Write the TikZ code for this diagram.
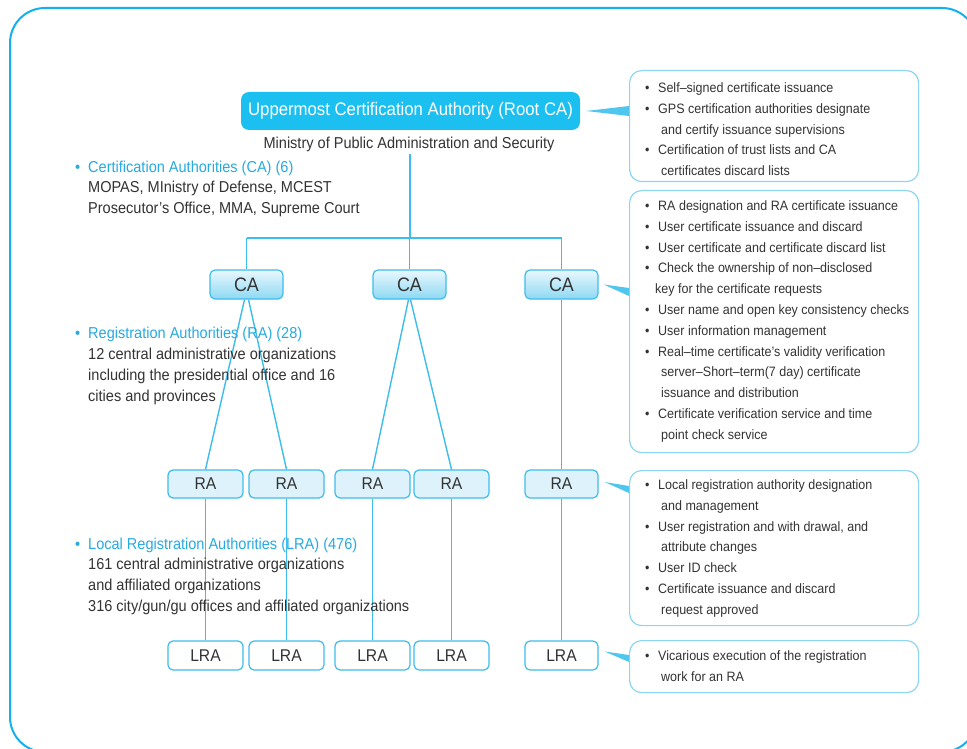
\documentclass[tikz,border=0pt]{standalone}
\usepackage{fontspec}
\setmainfont{Liberation Sans}[FakeStretch=0.92]
\usetikzlibrary{calc}

\definecolor{framecol}{HTML}{12B0EC}
\definecolor{linecol}{HTML}{3DBDEB}
\definecolor{rootcol}{HTML}{1CC0F0}
\definecolor{callcol}{HTML}{8DD6F1}
\definecolor{wedgecol}{HTML}{4FC6EE}
\definecolor{txtcol}{HTML}{333333}
\definecolor{bluetxt}{HTML}{27AAE1}
\definecolor{ratop}{HTML}{DDF2FB}
\definecolor{catop}{HTML}{E9F8FE}
\definecolor{cabot}{HTML}{8ED8F3}

\newcommand{\bul}{\makebox[13pt][l]{\textbullet}}
\newcommand{\cont}{\hspace*{16pt}}

\tikzset{
  frame/.style={draw=framecol, line width=2pt, rounded corners=35pt},
  link/.style={draw=linecol, line width=1.4pt},
  rootbox/.style={fill=rootcol, rounded corners=8pt, minimum width=339pt, minimum height=38pt,
    text=white, font=\fontsize{18.2}{20}\selectfont, inner sep=0pt},
  cabox/.style={draw=linecol, line width=1.2pt, rounded corners=5pt, top color=catop, bottom color=cabot,
    minimum width=73pt, minimum height=29pt, inner sep=0pt, text=txtcol, font=\fontsize{19.5}{20}\selectfont},
  rabox/.style={draw=linecol, line width=1.2pt, rounded corners=5pt, fill=ratop,
    minimum width=75pt, minimum height=28pt, inner sep=0pt, text=txtcol, font=\fontsize{17}{20}\selectfont},
  lrabox/.style={draw=linecol, line width=1.2pt, rounded corners=5pt, fill=white,
    minimum width=75pt, minimum height=29pt, inner sep=0pt, text=txtcol, font=\fontsize{17}{20}\selectfont},
  callout/.style={draw=callcol, line width=1.2pt, rounded corners=12pt, minimum width=289pt, anchor=north west, inner sep=0pt},
  listtext/.style={anchor=north west, align=left, inner sep=0pt, text=txtcol, font=\fontsize{13.6}{20.8}\selectfont},
  plain/.style={align=left, inner sep=0pt, text=txtcol, font=\fontsize{15.8}{21}\selectfont},
  wedge/.style={fill=wedgecol},
}

\begin{document}
\begin{tikzpicture}[x=1pt, y=-1pt]
  \clip (0,0) rectangle (967,749);
  \fill[white] (0,0) rectangle (967,749);

  % outer frame
  \draw[frame] (10,8) rectangle (977,752);

  % hierarchy nodes
  \node[rootbox] (root) at (410.5,111) {Uppermost Certification Authority (Root CA)};
  \node[plain, anchor=base] (ministry) at (409,149) {Ministry of Public Administration and Security};

  \node[cabox] (ca1) at (246.5,284.5) {CA};
  \node[cabox] (ca2) at (409.5,284.5) {CA};
  \node[cabox] (ca3) at (561.5,284.5) {CA};

  \node[rabox] (ra1) at (205.5,484) {RA};
  \node[rabox] (ra2) at (286.5,484) {RA};
  \node[rabox] (ra3) at (372.5,484) {RA};
  \node[rabox] (ra4) at (451.5,484) {RA};
  \node[rabox, minimum width=73pt] (ra5) at (561.5,484) {RA};

  \node[lrabox] (lra1) at (205.5,655.5) {LRA};
  \node[lrabox] (lra2) at (286.5,655.5) {LRA};
  \node[lrabox] (lra3) at (372.5,655.5) {LRA};
  \node[lrabox] (lra4) at (451.5,655.5) {LRA};
  \node[lrabox, minimum width=73pt] (lra5) at (561.5,655.5) {LRA};

  % connectors
  \coordinate (split) at (410,238);
  \path[link] (410,154) -- (split);
  \path[link] (ca1.north |- split) -- (ca3.north |- split);
  \path[link] (ca1.north |- split) -- (ca1.north);
  \path[link] (ca2.north |- split) -- (ca2.north);
  \path[link] (ca3.north |- split) -- (ca3.north);
  \path[link] ($(ca1.south)+(-2,0)$) -- (ra1.north);
  \path[link] ($(ca1.south)+(2,0)$) -- (ra2.north);
  \path[link] ($(ca2.south)+(-1,0)$) -- (ra3.north);
  \path[link] ($(ca2.south)+(1,0)$) -- (ra4.north);
  \path[link] (ca3.south) -- (ra5.north);
  \path[link] (ra1.south) -- (lra1.north);
  \path[link] (ra2.south) -- (lra2.north);
  \path[link] (ra3.south) -- (lra3.north);
  \path[link] (ra4.south) -- (lra4.north);
  \path[link] (ra5.south) -- (lra5.north);

  % left-hand descriptions
  \node[plain, anchor=base west] (catitle) at (75,172) {\textcolor{bluetxt}{\bul Certification Authorities (CA) (6)}};
  \node[plain, anchor=north west] (catext) at (88,181) {MOPAS, MInistry of Defense, MCEST\\Prosecutor’s Office, MMA, Supreme Court};

  \node[plain, anchor=base west] (ratitle) at (75,338) {\textcolor{bluetxt}{\bul Registration Authorities (RA) (28)}};
  \node[plain, anchor=north west] (ratext) at (88,348) {12 central administrative organizations\\including the presidential office and 16\\cities and provinces};

  \node[plain, anchor=base west] (lratitle) at (75,549) {\textcolor{bluetxt}{\bul Local Registration Authorities (LRA) (476)}};
  \node[plain, anchor=north west] (lratext) at (88,558) {161 central administrative organizations\\and affiliated organizations\\316 city/gun/gu offices and affiliated organizations};

  % callout boxes
  \node[callout, minimum height=111pt] (box1) at (629,70) {};
  \node[callout, minimum height=262pt] (box2) at (629,190) {};
  \node[callout, minimum height=155pt] (box3) at (629,470) {};
  \node[callout, minimum height=52pt] (box4) at (629,640) {};

  \node[listtext] (box1txt) at (645,82.5) {%
    \bul Self–signed certificate issuance\\
    \bul GPS certification authorities designate\\
    \cont and certify issuance supervisions\\
    \bul Certification of trust lists and CA\\
    \cont certificates discard lists};

  \node[listtext] (box2txt) at (645,200.5) {%
    \bul RA designation and RA certificate issuance\\
    \bul User certificate issuance and discard\\
    \bul User certificate and certificate discard list\\
    \bul Check the ownership of non–disclosed\\
    \hspace*{10pt}key for the certificate requests\\
    \bul User name and open key consistency checks\\
    \bul User information management\\
    \bul Real–time certificate’s validity verification\\
    \cont server–Short–term(7 day) certificate\\
    \cont issuance and distribution\\
    \bul Certificate verification service and time\\
    \cont point check service};

  \node[listtext] (box3txt) at (645,479.5) {%
    \bul Local registration authority designation\\
    \cont and management\\
    \bul User registration and with drawal, and\\
    \cont attribute changes\\
    \bul User ID check\\
    \bul Certificate issuance and discard\\
    \cont request approved};

  \node[listtext] (box4txt) at (645,650.5) {%
    \bul Vicarious execution of the registration\\
    \cont work for an RA};

  % pointers from nodes to their callouts
  \fill[wedge] ($(root.east)+(6,0)$) -- (box1.west |- 0,106) -- (box1.west |- 0,116) -- cycle;
  \fill[wedge] ($(ca3.east)+(5,0)$) -- (box2.west |- 0,288) -- (box2.west |- 0,296) -- cycle;
  \fill[wedge] ($(ra5.east)+(6,-2)$) -- (box3.west |- 0,486) -- (box3.west |- 0,493) -- cycle;
  \fill[wedge] ($(lra5.east)+(6,-4)$) -- (box4.west |- 0,655) -- (box4.west |- 0,662) -- cycle;
\end{tikzpicture}
\end{document}
